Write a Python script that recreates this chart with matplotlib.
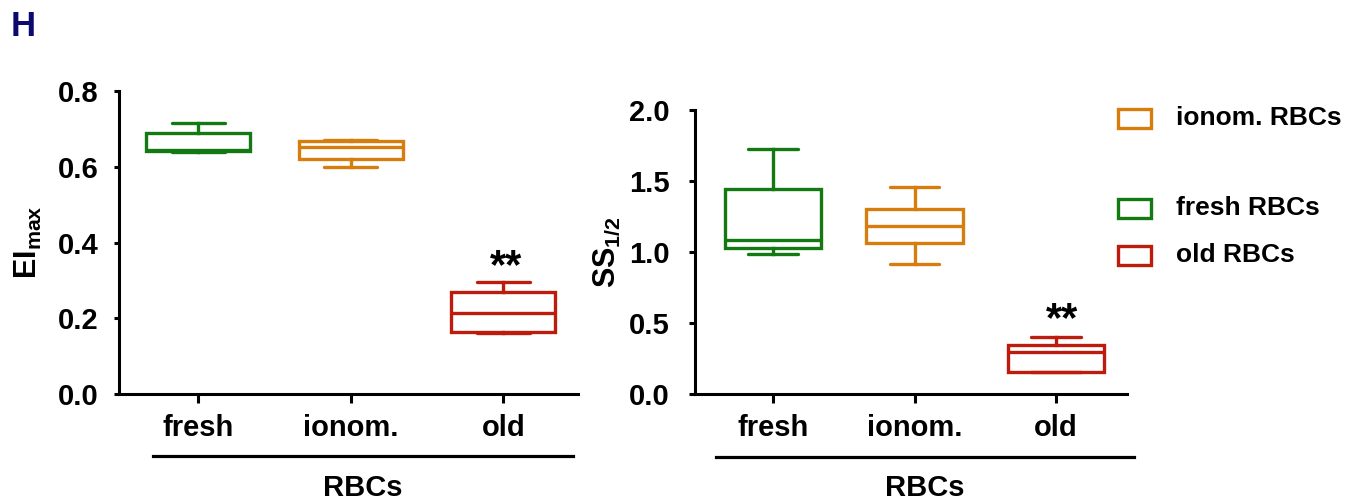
import matplotlib
matplotlib.use("Agg")
import matplotlib.pyplot as plt
from matplotlib.patches import Rectangle
from matplotlib.transforms import blended_transform_factory

plt.rcParams['font.family'] = ['Liberation Sans', 'DejaVu Sans']
plt.rcParams['font.weight'] = 'bold'
plt.rcParams['mathtext.fontset'] = 'custom'
plt.rcParams['mathtext.rm'] = 'Liberation Sans'
plt.rcParams['mathtext.bf'] = 'Liberation Sans:bold'

# Groups and colours
groups = ['fresh', 'ionom.', 'old']
colors = ['#137a13', '#d67d0d', '#bd1c0c']

# Box statistics: lower whisker, Q1, median, Q3, upper whisker
ei_whislo = [0.638, 0.600, 0.160]
ei_q1 = [0.642, 0.620, 0.163]
ei_med = [0.645, 0.651, 0.215]
ei_q3 = [0.690, 0.667, 0.268]
ei_whishi = [0.715, 0.670, 0.295]

ss_whislo = [0.988, 0.918, 0.153]
ss_q1 = [1.026, 1.066, 0.157]
ss_med = [1.087, 1.185, 0.294]
ss_q3 = [1.446, 1.303, 0.345]
ss_whishi = [1.723, 1.460, 0.399]

legend_labels = ['ionom. RBCs', 'fresh RBCs', 'old RBCs']
legend_colors = ['#d67d0d', '#137a13', '#bd1c0c']

W, H = 1348, 504
fig = plt.figure(figsize=(W / 100, H / 100), dpi=100)


def fx(x):
    return x / W


def fy(y):
    return 1 - y / H


def draw_panel(rect, lo, q1, med, q3, hi, ylim, yticks, ytlabels, ylabel,
               xlim, star_xy, ypad, ytick_len):
    ax = fig.add_axes(rect)
    stats = []
    for i in range(len(groups)):
        stats.append(dict(whislo=lo[i], q1=q1[i], med=med[i], q3=q3[i],
                          whishi=hi[i], fliers=[], label=groups[i]))
    lw = 2.4
    art = ax.bxp(stats, positions=range(len(groups)), widths=0.68,
                 capwidths=0.35, showfliers=False, patch_artist=True)
    for i, c in enumerate(colors):
        art['boxes'][i].set(facecolor='white', edgecolor=c, linewidth=lw,
                            joinstyle='miter')
        art['medians'][i].set(color=c, linewidth=lw)
        for k in (2 * i, 2 * i + 1):
            art['whiskers'][k].set(color=c, linewidth=lw)
            art['caps'][k].set(color=c, linewidth=lw, solid_capstyle='round')
    ax.set_xlim(*xlim)
    ax.set_ylim(*ylim)
    ax.set_yticks(yticks)
    ax.set_yticklabels(ytlabels)
    ax.set_xticks(range(len(groups)))
    ax.set_xticklabels(groups)
    for s in ('top', 'right'):
        ax.spines[s].set_visible(False)
    for s in ('left', 'bottom'):
        ax.spines[s].set_linewidth(2.2)
    ax.tick_params(axis='x', length=6.5, width=2.2, labelsize=21, pad=8)
    ax.tick_params(axis='y', length=ytick_len, width=2.2, labelsize=21,
                   pad=ypad)
    for t in ax.get_xticklabels() + ax.get_yticklabels():
        t.set_fontweight('bold')
    ax.set_ylabel(ylabel, fontsize=22, fontweight='bold')
    ax.text(star_xy[0], star_xy[1], '**', ha='center', va='center',
            fontsize=30, fontweight='bold')
    tr = blended_transform_factory(ax.transData, ax.transAxes)
    return ax, tr


# Left panel: EI_max
axL, trL = draw_panel([fx(119), fy(394), (578 - 119) / W, (394 - 91) / H],
                      ei_whislo, ei_q1, ei_med, ei_q3, ei_whishi,
                      (0, 0.8), [0.0, 0.2, 0.4, 0.6, 0.8],
                      ['0.0', '0.2', '0.4', '0.6', '0.8'],
                      r'$\mathbf{EI}_{\mathrm{max}}$',
                      (-0.52, 2.49), (2.02, 0.335), 11, 3.6)
axL.plot([-0.30, 2.46], [-0.205, -0.205], transform=trL, color='black',
         linewidth=2.3, clip_on=False)
axL.text(1.08, -0.31, 'RBCs', transform=trL, ha='center', va='center',
         fontsize=21, fontweight='bold')
axL.yaxis.set_label_coords(-0.163, 0.5)

# Right panel: SS_1/2
axR, trR = draw_panel([fx(695), fy(394), (1127 - 695) / W, (394 - 110) / H],
                      ss_whislo, ss_q1, ss_med, ss_q3, ss_whishi,
                      (0, 2.0), [0.0, 0.5, 1.0, 1.5, 2.0],
                      ['0.0', '0.5', '1.0', '1.5', '2.0'],
                      r'$\mathbf{SS}_{\mathrm{1/2}}$',
                      (-0.55, 2.50), (2.04, 0.52), 14, 4.3)
axR.plot([-0.40, 2.55], [-0.222, -0.222], transform=trR, color='black',
         linewidth=2.3, clip_on=False)
axR.text(1.07, -0.331, 'RBCs', transform=trR, ha='center', va='center',
         fontsize=21, fontweight='bold')
axR.yaxis.set_label_coords(-0.168, 0.5)

# Legend drawn as outlined boxes with labels
legend_y = [118, 208, 255]
for lab, c, yc in zip(legend_labels, legend_colors, legend_y):
    fig.add_artist(Rectangle((fx(1118), fy(yc + 9.5)), 33 / W, 19 / H,
                             transform=fig.transFigure, facecolor='white',
                             edgecolor=c, linewidth=2.4))
    fig.text(fx(1176), fy(yc), lab, ha='left', va='center', fontsize=19,
             fontweight='bold')

# Panel letter
fig.text(fx(11), fy(27), 'H', ha='left', va='center', fontsize=25,
         fontweight='bold', color='#0b0b6e')

fig.savefig('out.png', dpi=100, facecolor='white')
